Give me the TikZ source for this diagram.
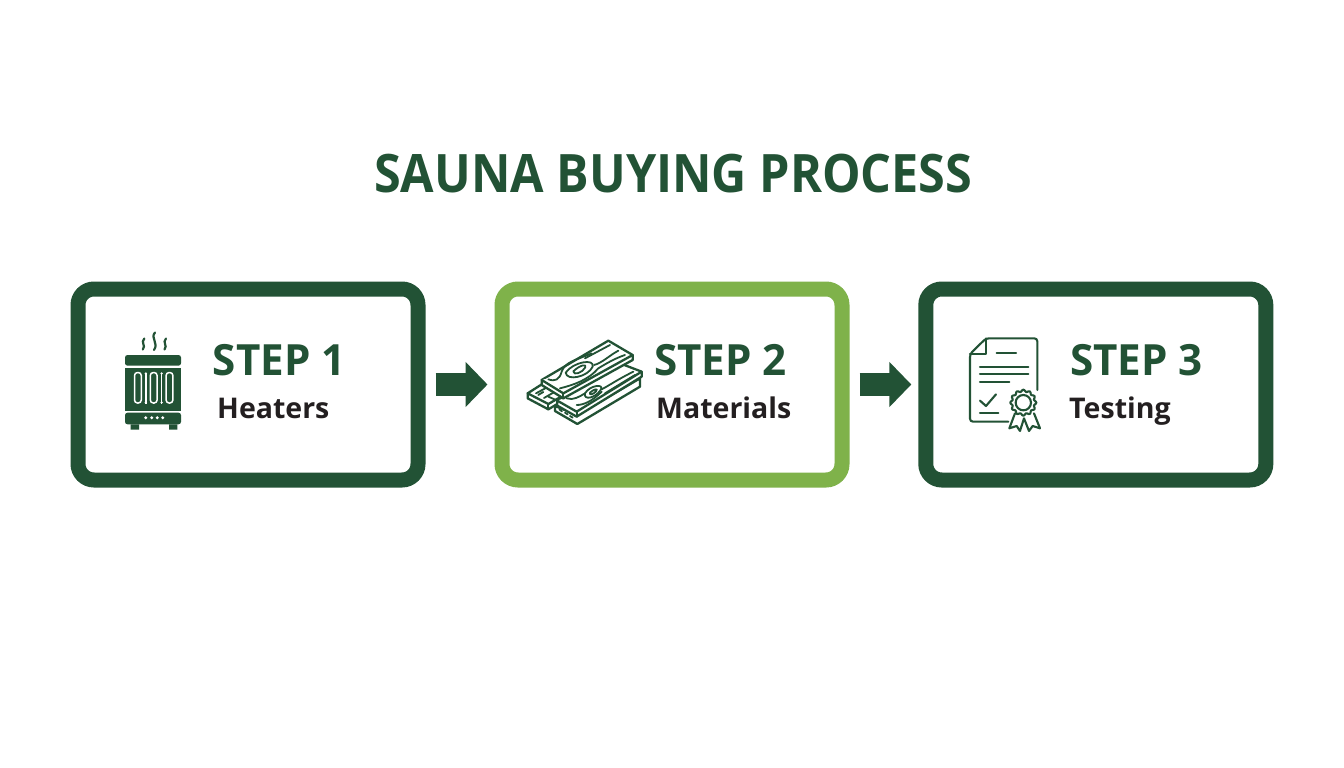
\documentclass[tikz,border=0pt]{standalone}
\usepackage{fontspec}
\setmainfont{Open Sans}
\newfontfamily\titlefont[FakeStretch=0.916]{Open Sans}
\newfontfamily\stepfont[FakeStretch=0.98]{Open Sans}
\usetikzlibrary{arrows.meta}
\definecolor{dkgreen}{HTML}{225235}
\definecolor{ltgreen}{HTML}{7FB24A}
\definecolor{ink}{HTML}{231F20}
\tikzset{
  stepbox/.style={draw=#1,line width=15pt,rounded corners=16pt,minimum width=340pt,minimum height=191pt,inner sep=0pt,fill=white},
  flow/.style={draw=dkgreen,line width=22.7pt,-{Triangle[length=22pt,width=44pt,fill=dkgreen]},shorten <=10pt,shorten >=7pt},
  headtext/.style={anchor=base west,inner sep=0pt,text=dkgreen,font=\stepfont\fontsize{43}{43}\selectfont\bfseries},
  subtext/.style={anchor=base west,inner sep=0pt,text=ink,font=\fontsize{28.5}{28.5}\selectfont\bfseries},
  titletext/.style={anchor=base west,inner sep=0pt,text=dkgreen,font=\titlefont\fontsize{53}{53}\selectfont\bfseries},
  icon/.style={draw=dkgreen,line width=2.1pt,line join=round,line cap=round},
  plank/.style={icon,fill=white,line width=2.3pt},
  grain/.style={icon,line width=1.8pt},
}
\begin{document}
\begin{tikzpicture}[x=1pt,y=-1pt]
\useasboundingbox (0,0) rectangle (1344,768);
\fill[white] (0,0) rectangle (1344,768);
\node[titletext] (title) at (374,192) {SAUNA BUYING PROCESS};
\node[stepbox=dkgreen] (b1) at (248,384.5) {};
\node[stepbox=ltgreen] (b2) at (672,384.5) {};
\node[stepbox=dkgreen] (b3) at (1095.8,384.5) {};
\draw[flow] (b1) -- (b2);
\draw[flow] (b2) -- (b3);
\node[headtext] (s1) at (212.7,375) {STEP 1};
\node[subtext] (t1) at (217,418) {Heaters};
\node[headtext] (s2) at (654,375) {STEP 2};
\node[subtext] (t2) at (656,418) {Materials};
\node[headtext] (s3) at (1070,375) {STEP 3};
\node[subtext] (t3) at (1069,418) {Testing};
% heater
\fill[dkgreen,rounded corners=2.5pt] (125,365.7) -- (125,355) -- (181,355) -- (181,365.7) -- cycle;
\fill[dkgreen] (125,367.7) rectangle (181,411);
\fill[dkgreen,rounded corners=2.5pt] (125,412.7) -- (125,424.3) -- (181,424.3) -- (181,412.7) -- cycle;
\fill[dkgreen] (130.7,424.3) rectangle (139,429.5) (169,424.3) rectangle (177.3,429.5);
\foreach \x in {145.7,151.7,157.3,162.7}{\fill[white] (\x,417.7) circle (1.6);}
\begin{scope}[draw=white,line width=1.5pt]
\foreach \x in {137.9,153.7,169.5}{\draw[rounded corners=3pt] (\x-3.4,372.5) rectangle (\x+3.4,403);}
\foreach \x in {145.8,161.6}{\draw (\x,372.5) -- (\x,403.5);
  \fill[white] (\x,373.5) circle (1.3) (\x,402.5) circle (1.3);}
\end{scope}
\begin{scope}[draw=dkgreen,line width=2.2pt,line cap=round]
\foreach \x/\t in {143.3/338.5,165/338.5}{\draw (\x+1,\t) .. controls (\x-3,\t+4) and (\x+3,\t+7) .. (\x-0.5,\t+11);}
\draw (155,332.5) .. controls (150,338) and (159,343) .. (154,350);
\end{scope}
% planks
\begin{scope}[shift={(520,330)},x=0.3333pt,y=-0.3333pt]
\draw[plank] (23,190) -- (70,160) -- (132,195) -- (132,210) -- (85,238) -- (23,205) -- cycle;
\draw[plank] (23,190) -- (85,222) -- (132,195);
\draw[plank] (85,222) -- (85,238);
\draw[grain] (48,190) -- (85,170) (55,195) -- (70,186) (72,204) -- (100,188) (85,200) -- (108,210);
\draw[plank] (105,228) -- (105,243) -- (172,282) -- (360,170) -- (360,145) -- (172,255) -- cycle;
\draw[grain] (118,238) -- (126,244) (135,248) -- (143,253) (150,258) -- (158,263);
\draw[plank] (112,212) -- (112,227) -- (170,260) -- (365,140) -- (365,125) -- (300,100) -- cycle;
\draw[plank] (112,212) -- (170,245) -- (365,125);
\draw[plank] (170,245) -- (170,260);
\draw[grain] (195,190) .. controls (210,165) and (255,160) .. (242,180) .. controls (225,205) and (190,212) .. (195,190) -- cycle;
\draw[grain] (210,188) .. controls (222,177) and (236,174) .. (228,184) .. controls (220,194) and (206,196) .. (210,188) -- cycle;
\draw[grain] (140,205) .. controls (160,212) and (178,200) .. (195,190);
\draw[grain] (170,225) .. controls (190,225) and (215,215) .. (245,185);
\draw[grain] (245,178) .. controls (270,165) and (290,150) .. (340,125);
\draw[grain] (255,190) -- (345,135);
\draw[plank] (65,150) -- (65,165) -- (130,205) -- (338,90) -- (338,75) -- (265,32) -- cycle;
\draw[plank] (65,150) -- (130,190) -- (338,75);
\draw[plank] (130,190) -- (130,205);
\draw[grain] (137,128) .. controls (160,95) and (225,85) .. (218,110) .. controls (205,140) and (140,155) .. (137,128) -- cycle;
\draw[grain] (160,124) .. controls (178,106) and (202,100) .. (196,112) .. controls (188,128) and (160,138) .. (160,124) -- cycle;
\draw[grain] (85,148) .. controls (105,155) and (118,150) .. (125,125) .. controls (135,95) and (170,90) .. (215,70);
\draw[grain] (120,175) .. controls (160,165) and (205,150) .. (235,115) .. controls (260,100) and (285,85) .. (315,75);
\draw[grain] (222,105) .. controls (245,100) and (270,75) .. (295,62);
\draw[grain] (195,85) -- (270,45);
\end{scope}
% certificate
\begin{scope}[shift={(960,330)},x=0.3333pt,y=-0.3333pt]
\draw[icon,rounded corners=3pt] (145,275) -- (30,275) -- (30,72) -- (78,25) -- (232,25) -- (232,180);
\draw[icon] (78,25) -- (78,72) -- (30,72);
\draw[icon] (110,70) -- (168,70);
\draw[icon] (60,110) -- (205,110) (60,133) -- (205,133) (60,157) -- (148,157);
\draw[icon] (60,212) -- (78,228) -- (108,193);
\draw[icon] (60,248) -- (115,248);
\draw[icon] (165,250) -- (148,295) -- (170,288) -- (180,303) -- (192,265) -- (207,303) -- (218,288) -- (240,295) -- (222,250);
\draw[icon,fill=white] plot[smooth cycle,samples=72,domain=0:355] ({190+(36+3*cos(12*\x))*cos(\x)},{218+(36+3*cos(12*\x))*sin(\x)});
\draw[icon] (190,218) circle (23);
\end{scope}
\end{tikzpicture}
\end{document}
